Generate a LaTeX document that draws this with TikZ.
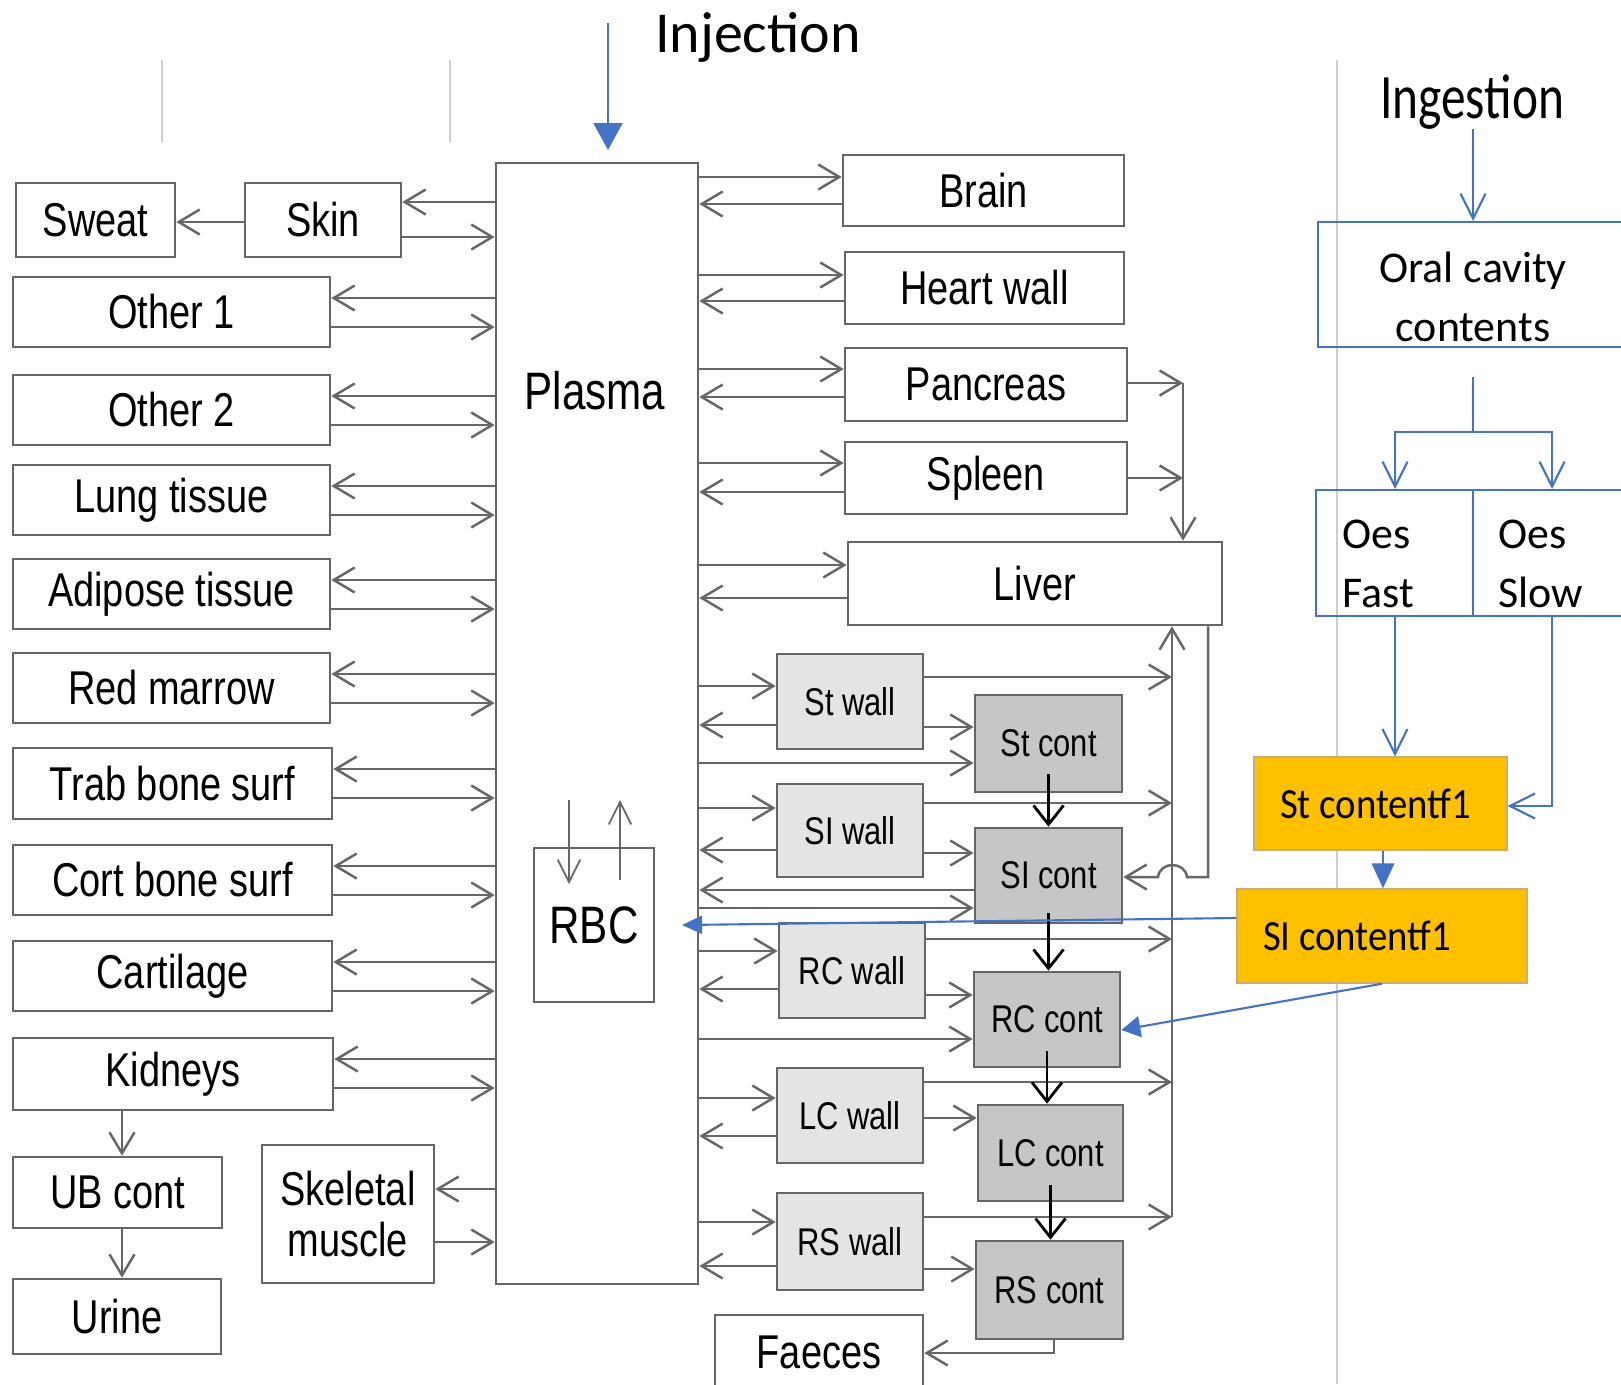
\documentclass[tikz,border=0pt]{standalone}
\usepackage{fontspec}
\setmainfont[FakeStretch=0.8]{Liberation Sans}
\newfontfamily\calfont{Carlito}
\newfontfamily\calfontN[FakeStretch=0.9]{Carlito}
\newfontfamily\calfontI[FakeStretch=0.78]{Carlito}
\usetikzlibrary{arrows.meta}
\definecolor{lg}{HTML}{666666}
\definecolor{oblue}{HTML}{4472C4}
\definecolor{gold}{HTML}{FFC000}
\definecolor{goldb}{HTML}{C8AE70}
\definecolor{wallg}{HTML}{E4E4E4}
\definecolor{contg}{HTML}{C6C6C6}
\definecolor{thinl}{HTML}{CDCDCD}
\newcommand\bx[7][]{\node[box,#1,minimum width={(#4-#2)*0.02cm},minimum height={(#5-#3)*0.02cm}] (#6) at ({(#2+#4)/2},{(#3+#5)/2}) {#7};}
\newcommand\lpair[3]{\draw[ar] (P.west|-0,#2) -- (#1.east|-0,#2); \draw[ar] (#1.east|-0,#3) -- (P.west|-0,#3);}
\newcommand\rpair[3]{\draw[ar] (P.east|-0,#2) -- (#1.west|-0,#2); \draw[ar] (#1.west|-0,#3) -- (P.east|-0,#3);}
\begin{document}
\begin{tikzpicture}[x=0.02cm,y=-0.02cm,
 box/.style={draw=lg,line width=1.5pt,fill=white,inner sep=0pt,align=flush center,text=black,font=\fontsize{27}{28.5}\selectfont},
 wall/.style={fill=wallg,font=\fontsize{22}{26}\selectfont},
 cont/.style={fill=contg,font=\fontsize{22}{26}\selectfont},
 big/.style={font=\fontsize{30}{34}\selectfont},
 ar/.style={draw=lg,line width=1.4pt,-{Straight Barb[length=0.42cm,width=0.5cm]}},
 arthin/.style={draw=lg,line width=1pt,-{Straight Barb[length=0.45cm,width=0.45cm]}},
 bk/.style={draw=black,line width=1.6pt,-{Straight Barb[length=0.38cm,width=0.6cm]}},
 bl/.style={draw=oblue,line width=1.2pt},
 blar/.style={bl,-{Straight Barb[length=0.5cm,width=0.5cm]}},
 blf/.style={bl,-{Triangle[length=0.5cm,width=0.45cm]}},
 bbox/.style={draw=oblue,line width=1.2pt,inner sep=0pt},
 btxt/.style={font=\calfont\fontsize{25}{33.5}\selectfont,inner sep=0pt},
 yel/.style={fill=gold,draw=goldb,line width=0.8pt,inner ysep=0pt,font=\calfontN\fontsize{24.5}{28}\selectfont},
 divl/.style={draw=thinl,line width=0.7pt}
]
\useasboundingbox (0,0) rectangle (1621,1384);
\fill[white] (0,0) rectangle (1621,1384);
% divider lines
\draw[divl] (162,60) -- (162,142);
\draw[divl] (450,60) -- (450,142);
\draw[divl] (1337,60) -- (1337,1384);
% plasma and RBC
\bx{496}{163}{698}{1284}{P}{}
\node[big,anchor=base] (PT) at (595,409) {Plasma};
\bx[big,line width=1pt]{534}{848}{654}{1002}{RBC}{RBC}
% left column
\bx{16}{183}{175}{257}{Sweat}{Sweat}
\bx{245}{183}{401}{257}{Skin}{Skin}
\bx{13}{277}{330}{347}{O1}{Other 1}
\bx{13}{375}{330}{445}{O2}{Other 2}
\bx{13}{465}{330}{535}{Lung}{Lung tissue}
\bx{13}{559}{330}{629}{Adi}{Adipose tissue}
\bx{13}{653}{330}{723}{Red}{Red marrow}
\bx{13}{748}{332}{819}{Trab}{Trab bone surf}
\bx{13}{845}{332}{915}{Cort}{Cort bone surf}
\bx{13}{941}{332}{1011}{Cart}{Cartilage}
\bx{13}{1038}{333}{1110}{Kid}{Kidneys}
\bx{13}{1157}{222}{1228}{UB}{UB cont}
\bx{13}{1279}{221}{1354}{Urine}{Urine}
\bx{262}{1145}{434}{1283}{Skel}{Skeletal\\muscle}
% right column
\bx{843}{155}{1124}{226}{Brain}{Brain}
\bx{845}{252}{1124}{324}{Heart}{Heart wall}
\bx{845}{348}{1127}{421}{Panc}{Pancreas}
\bx{845}{442}{1127}{514}{Spleen}{Spleen}
\bx{848}{542}{1222}{625}{Liver}{Liver}
\bx[wall]{777}{654}{923}{749}{StW}{St wall}
\bx[cont]{975}{695}{1122}{792}{StC}{St cont}
\bx[wall]{777}{784}{923}{877}{SlW}{SI wall}
\bx[cont]{975}{828}{1122}{923}{SlC}{SI cont}
\bx[wall]{779}{923}{925}{1018}{RCW}{RC wall}
\bx[cont]{974}{972}{1120}{1067}{RCC}{RC cont}
\bx[wall]{777}{1068}{923}{1163}{LCW}{LC wall}
\bx[cont]{978}{1105}{1123}{1201}{LCC}{LC cont}
\bx[wall]{777}{1193}{923}{1290}{RSW}{RS wall}
\bx[cont]{976}{1241}{1123}{1339}{RSC}{RS cont}
\bx{715}{1315}{923}{1390}{Faeces}{Faeces}
% ingestion side
\node[bbox,minimum width=6.2cm,minimum height=2.5cm] (Oral) at (1473,284.5) {};
\node[btxt,align=flush center] (OralT) at (1473,297) {Oral cavity\\contents};
\node[bbox,minimum width=3.14cm,minimum height=2.52cm] (OesF) at (1394.5,553) {};
\node[bbox,minimum width=3.1cm,minimum height=2.52cm] (OesS) at (1550.5,553) {};
\node[btxt,align=flush left,anchor=west] (OesFT) at (1342,564) {Oes\\Fast};
\node[btxt,align=flush left,anchor=west] (OesST) at (1498,564) {Oes\\Slow};
\node[yel,minimum width=5.06cm,minimum height=1.86cm,inner xsep=0.52cm,text width=4.02cm,align=flush left] (StF) at (1380.5,803.5) {St contentf1};
\node[yel,minimum width=5.8cm,minimum height=1.88cm,inner xsep=0.52cm,text width=4.76cm,align=flush left] (SlF) at (1382,936) {SI contentf1};
% titles
\node[font=\calfont\fontsize{33}{36}\selectfont,anchor=base] (Inj) at (758,52) {Injection};
\node[font=\calfontI\fontsize{36}{40}\selectfont,anchor=base] (Ing) at (1472,118) {Ingestion};
% left arrows
\draw[ar] (P.west|-0,202) -- (Skin.east|-0,202);
\draw[ar] (Skin.east|-0,237) -- (P.west|-0,237);
\draw[ar] (Skin.west|-0,222) -- (Sweat.east|-0,222);
\lpair{O1}{298}{327}
\lpair{O2}{396}{425}
\lpair{Lung}{486}{515}
\lpair{Adi}{580}{609}
\lpair{Red}{674}{703}
\lpair{Trab}{769}{798}
\lpair{Cort}{866}{895}
\lpair{Cart}{962}{991}
\lpair{Kid}{1059}{1088}
\lpair{Skel}{1189}{1242}
\draw[ar] (Kid.south-|122,0) -- (UB.north-|122,0);
\draw[ar] (UB.south-|122,0) -- (Urine.north-|122,0);
% right arrows
\rpair{Brain}{177}{204}
\rpair{Heart}{275}{301}
\rpair{Panc}{369}{397}
\rpair{Spleen}{463}{492}
\rpair{Liver}{565}{598}
\coordinate (pj) at (1183,383);
\coordinate (sj) at (1183,478);
\draw[ar] (Panc.east|-pj) -- (pj);
\draw[ar] (Spleen.east|-sj) -- (sj);
\draw[ar] (pj) -- (Liver.north-|pj);
% GI tract
\coordinate (cb) at (1172,1217);
\draw[ar] (cb) -- (Liver.south-|cb);
\rpair{StW}{686}{725}
\draw[ar] (StW.east|-0,727) -- (StC.west|-0,727);
\draw[ar] (P.east|-0,763) -- (StC.west|-0,763);
\draw[ar] (StW.east|-0,677) -- (cb|-0,677);
\rpair{SlW}{808}{850}
\draw[ar] (SlW.east|-0,853) -- (SlC.west|-0,853);
\draw[ar] (SlW.east|-0,803) -- (cb|-0,803);
\draw[ar] (SlC.west|-0,890) -- (P.east|-0,890);
\draw[ar] (P.east|-0,908) -- (SlC.west|-0,908);
\rpair{RCW}{951}{989}
\draw[ar] (RCW.east|-0,995) -- (RCC.west|-0,995);
\draw[ar] (P.east|-0,1039) -- (RCC.west|-0,1039);
\draw[ar] (RCW.east|-0,939) -- (cb|-0,939);
\rpair{LCW}{1098}{1136}
\draw[ar] (LCW.east|-0,1118) -- (LCC.west|-0,1118);
\draw[ar] (LCW.east|-0,1082) -- (cb|-0,1082);
\rpair{RSW}{1222}{1266}
\draw[ar] (RSW.east|-0,1269) -- (RSC.west|-0,1269);
\draw[ar] (RSW.east|-cb) -- (cb);
\draw[bk] ([yshift=0.38cm]StC.south) -- (StC.south|-SlC.north);
\draw[bk] ([yshift=0.22cm]SlC.south) -- (SlC.south|-RCC.north);
\draw[bk] ([yshift=0.34cm]RCC.south) -- (RCC.south|-LCC.north);
\draw[bk] ([yshift=0.34cm]LCC.south) -- (LCC.south|-RSC.north);
\draw[ar] (RSC.south-|1054,0) |- (Faeces.east|-0,1353);
\draw[ar] (Liver.south-|1208,0) -- (1208,877) -- (1187,877) .. controls (1185,861) and (1160,861) .. (1158,877) -- (SlC.east|-0,877);
% RBC exchange
\coordinate (ra1) at (569,800); \coordinate (ra2) at (569,884);
\coordinate (rb1) at (620,880); \coordinate (rb2) at (620,800);
\draw[arthin] (ra1) -- (ra2);
\draw[arthin] (rb1) -- (rb2);
% blue arrows
\coordinate (injA) at (608,23); \coordinate (injB) at (608,150);
\draw[bl,-{Triangle[length=0.54cm,width=0.58cm]}] (injA) -- (injB);
\coordinate (ingA) at (1473,129);
\draw[blar] (ingA) -- (Oral.north-|ingA);
\coordinate (brA) at (1473,377); \coordinate (brB) at (1473,432);
\draw[bl] (brA) -- (brB);
\draw[blar] (brB) -| (OesF.north-|1395,0);
\draw[blar] (brB) -| (OesS.north-|1552,0);
\draw[blar] (OesF.south-|1395,0) -- (StF.north-|1395,0);
\draw[blar] (OesS.south-|1552,0) |- (StF.east|-0,806);
\draw[blf] (StF.south-|1383,0) -- (SlF.north-|1383,0);
\coordinate (rbcT) at (682,925);
\draw[bl,-{Triangle[length=0.4cm,width=0.36cm]}] (SlF.west|-0,918) -- (rbcT);
\draw[bl,-{Triangle[length=0.38cm,width=0.42cm]}] (SlF.south-|1382,0) -- (RCC.east|-0,1030);
\end{tikzpicture}
\end{document}
